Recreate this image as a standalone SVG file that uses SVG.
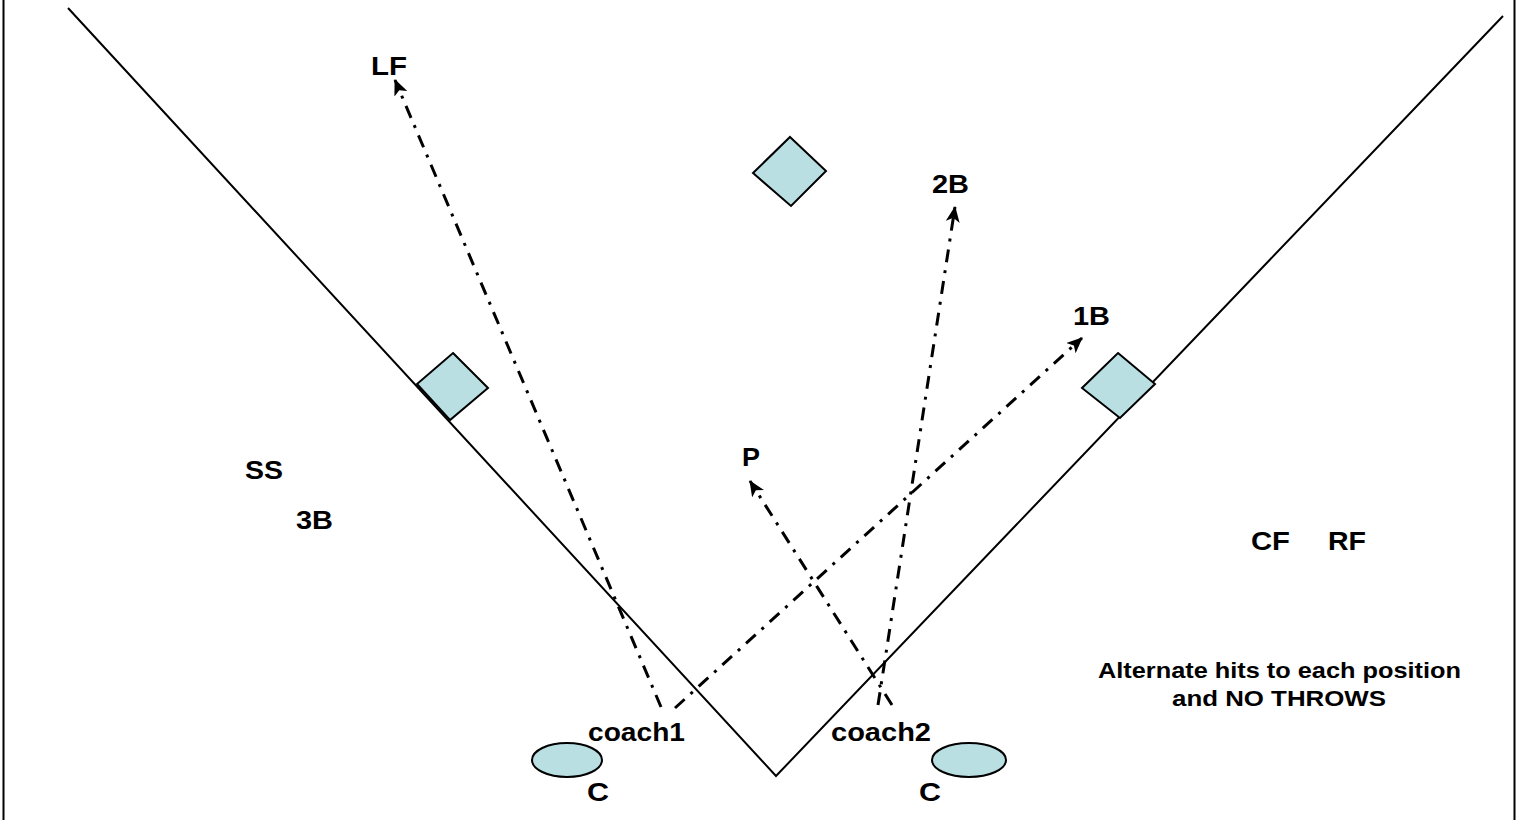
<svg xmlns="http://www.w3.org/2000/svg" width="1518" height="820" viewBox="0 0 1518 820">
<defs>
<style>
.lbl{font-family:"Liberation Sans",Arial,sans-serif;font-weight:bold;font-size:26px;fill:#000}
.note{font-family:"Liberation Sans",Arial,sans-serif;font-weight:bold;font-size:22px;fill:#000}
.base{fill:#B9DFE3;stroke:#000;stroke-width:2}
.line{stroke:#000;stroke-width:2;fill:none}
.hit{stroke:#000;stroke-width:3;fill:none;stroke-dasharray:13 8 3 8;marker-end:url(#ah)}
</style>
<marker id="ah" markerUnits="userSpaceOnUse" markerWidth="18" markerHeight="14" refX="15" refY="7" orient="auto">
<path d="M0,0 L16,7 L0,14 L4,7 Z" fill="#000"/>
</marker>
</defs>
<rect width="1518" height="820" fill="#fff"/>
<g id="frame">
<line class="line" x1="3.5" y1="0" x2="3.5" y2="820"/>
<line class="line" x1="1514.5" y1="0" x2="1514.5" y2="820"/>
</g>
<g id="foul-lines">
<polyline class="line" points="68,8 776,776 1503,16"/>
</g>
<g id="third-base"><polygon class="base" points="453,353 488,388 450,420 417,384"/></g>
<g id="second-base"><polygon class="base" points="790,137 826,171 791,206 753,173"/></g>
<g id="first-base"><polygon class="base" points="1118,353 1155,384 1120,418 1082,388"/></g>
<g id="catcher1"><ellipse class="base" cx="567" cy="760" rx="35" ry="17"/></g>
<g id="catcher2"><ellipse class="base" cx="969" cy="760" rx="37" ry="17"/></g>
<g id="connectors">
<line class="hit" x1="661" y1="707" x2="395" y2="80"/>
<line class="hit" x1="675" y1="708" x2="1082" y2="338"/>
<line class="hit" x1="878" y1="705" x2="955" y2="207"/>
<line class="hit" x1="892" y1="705" x2="750" y2="481"/>
</g>
<g id="labels">
<text class="lbl" x="371" y="75" textLength="36" lengthAdjust="spacingAndGlyphs">LF</text>
<text class="lbl" x="932" y="193" textLength="37" lengthAdjust="spacingAndGlyphs">2B</text>
<text class="lbl" x="1073" y="325" textLength="37" lengthAdjust="spacingAndGlyphs">1B</text>
<text class="lbl" x="742" y="466" textLength="18" lengthAdjust="spacingAndGlyphs">P</text>
<text class="lbl" x="245" y="479" textLength="38" lengthAdjust="spacingAndGlyphs">SS</text>
<text class="lbl" x="296" y="529" textLength="37" lengthAdjust="spacingAndGlyphs">3B</text>
<text class="lbl" x="1251" y="550" textLength="39" lengthAdjust="spacingAndGlyphs">CF</text>
<text class="lbl" x="1328" y="550" textLength="38" lengthAdjust="spacingAndGlyphs">RF</text>
<text class="lbl" x="588" y="741" textLength="97" lengthAdjust="spacingAndGlyphs">coach1</text>
<text class="lbl" x="831" y="741" textLength="100" lengthAdjust="spacingAndGlyphs">coach2</text>
<text class="lbl" x="587" y="801" textLength="22" lengthAdjust="spacingAndGlyphs">C</text>
<text class="lbl" x="919" y="801" textLength="22" lengthAdjust="spacingAndGlyphs">C</text>
<text class="note" x="1098" y="678" textLength="363" lengthAdjust="spacingAndGlyphs">Alternate hits to each position</text>
<text class="note" x="1172" y="706" textLength="214" lengthAdjust="spacingAndGlyphs">and NO THROWS</text>
</g>
</svg>
